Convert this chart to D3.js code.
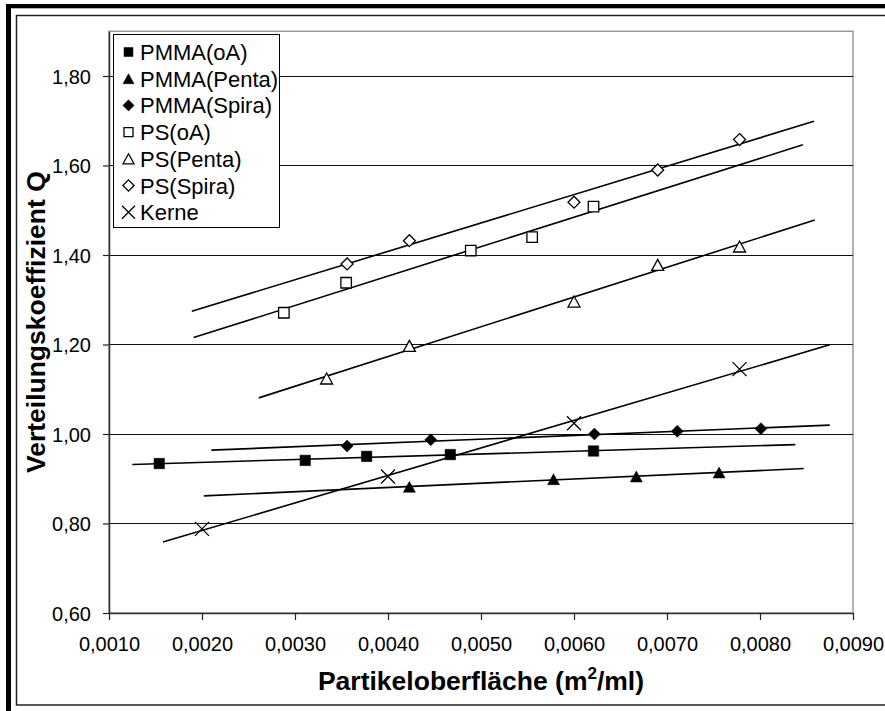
<!DOCTYPE html>
<html>
<head>
<meta charset="utf-8">
<script src="https://cdn.jsdelivr.net/npm/d3@7"></script>
<style>
  body { margin: 0; background: #fff; }
  svg { display: block; }
  text { font-family: "Liberation Sans", Arial, sans-serif; fill: #000; }
</style>
</head>
<body>
<svg id="chart" width="885" height="711"></svg>
<script>
// Particle surface (m²/ml) against distribution coefficient Q
const pmmaOaX    = [0.00154, 0.00311, 0.00377, 0.00467, 0.00621];
const pmmaOaY    = [0.934, 0.941, 0.950, 0.954, 0.962];
const pmmaPentaX = [0.00423, 0.00578, 0.00667, 0.00756];
const pmmaPentaY = [0.882, 0.899, 0.905, 0.914];
const pmmaSpiraX = [0.00356, 0.00446, 0.00622, 0.00711, 0.00801];
const pmmaSpiraY = [0.973, 0.987, 1.000, 1.006, 1.012];
const psOaX      = [0.00288, 0.00355, 0.00489, 0.00555, 0.00621];
const psOaY      = [1.271, 1.338, 1.410, 1.440, 1.508];
const psPentaX   = [0.00334, 0.00423, 0.00600, 0.00690, 0.00778];
const psPentaY   = [1.124, 1.197, 1.296, 1.378, 1.419];
const psSpiraX   = [0.00356, 0.00423, 0.00600, 0.00690, 0.00778];
const psSpiraY   = [1.380, 1.432, 1.518, 1.590, 1.658];
const kerneX     = [0.0020, 0.0040, 0.0060, 0.00778];
const kerneY     = [0.788, 0.905, 1.024, 1.145];

// x-range spanned by each linear trendline (backward / forward forecast)
const trendFrom = [0.00125, 0.00202, 0.00210, 0.00191, 0.00261, 0.00189, 0.00158];
const trendTo   = [0.00838, 0.00847, 0.00875, 0.00846, 0.00859, 0.00858, 0.00875];

const seriesNames = ["PMMA(oA)", "PMMA(Penta)", "PMMA(Spira)", "PS(oA)", "PS(Penta)", "PS(Spira)", "Kerne"];
const seriesShapes = ["square", "triangle", "diamond", "square", "triangle", "diamond", "x"];
const seriesFilled = [true, true, true, false, false, false, false];

const xTicks = [0.001, 0.002, 0.003, 0.004, 0.005, 0.006, 0.007, 0.008, 0.009];
const yTicks = [0.6, 0.8, 1.0, 1.2, 1.4, 1.6, 1.8];
const xDomain = [0.001, 0.009];
const yDomain = [0.6, 1.9];

const xTitle = "Partikeloberfläche";
const yTitle = "Verteilungskoeffizient Q";

const seriesX = [pmmaOaX, pmmaPentaX, pmmaSpiraX, psOaX, psPentaX, psSpiraX, kerneX];
const seriesY = [pmmaOaY, pmmaPentaY, pmmaSpiraY, psOaY, psPentaY, psSpiraY, kerneY];

const series = seriesNames.map((name, i) => ({
  name,
  shape: seriesShapes[i],
  filled: seriesFilled[i],
  points: seriesX[i].map((x, j) => ({ x, y: seriesY[i][j] })),
  from: trendFrom[i],
  to: trendTo[i]
}));

const locale = d3.formatLocale({ decimal: ",", thousands: ".", grouping: [3], currency: ["", "€"] });
const fmtX = locale.format(".4f");
const fmtY = locale.format(".2f");

const svg = d3.select("#chart");
const plot = { left: 109, right: 853, top: 31.25, bottom: 613 };

const x = d3.scaleLinear().domain(xDomain).range([plot.left, plot.right]);
const y = d3.scaleLinear().domain(yDomain).range([plot.bottom, plot.top]);

// outer frame: heavy top/left edge plus a thin inner rule
svg.append("rect").attr("x", 6).attr("y", 4).attr("width", 5).attr("height", 707).attr("fill", "#000");
svg.append("rect").attr("x", 6).attr("y", 4).attr("width", 879).attr("height", 4.3).attr("fill", "#000");
svg.append("path")
  .attr("d", "M885,15.5 H16.5 V705 H885")
  .attr("fill", "none").attr("stroke", "#222").attr("stroke-width", 1.5);

// plot area border
svg.append("rect")
  .attr("x", plot.left).attr("y", plot.top)
  .attr("width", plot.right - plot.left).attr("height", plot.bottom - plot.top)
  .attr("fill", "none").attr("stroke", "#9a9a9a").attr("stroke-width", 1.5);

// horizontal gridlines
svg.append("g").selectAll("line")
  .data(yTicks.filter(v => v > yDomain[0]))
  .join("line")
  .attr("x1", plot.left).attr("x2", plot.right)
  .attr("y1", d => Math.round(y(d)) + 0.5).attr("y2", d => Math.round(y(d)) + 0.5)
  .attr("stroke", "#111").attr("stroke-width", 1);

// axes
const yAxis = svg.append("g")
  .attr("transform", `translate(${plot.left},0)`)
  .call(d3.axisLeft(y).tickValues(yTicks).tickFormat(fmtY).tickSize(6).tickPadding(12).tickSizeOuter(0));
const xAxis = svg.append("g")
  .attr("transform", `translate(0,${plot.bottom})`)
  .call(d3.axisBottom(x).tickValues(xTicks).tickFormat(fmtX).tickSize(7).tickPadding(12).tickSizeOuter(0));

[yAxis, xAxis].forEach(g => {
  g.select(".domain").attr("stroke", "#333").attr("stroke-width", 1.5);
  g.selectAll(".tick line").attr("stroke", "#222").attr("stroke-width", 1.2);
  g.selectAll(".tick text")
    .attr("font-family", "\"Liberation Sans\", Arial, sans-serif")
    .attr("font-size", 20).attr("fill", "#000");
});
xAxis.selectAll(".tick text").attr("dy", null).attr("y", 38);
yAxis.selectAll(".tick text").attr("dy", "0.36em");

// marker shapes
function markerPath(shape, s) {
  const p = d3.path();
  if (shape === "square") {
    const h = s.sq / 2;
    p.rect(-h, -h, s.sq, s.sq);
  } else if (shape === "triangle") {
    p.moveTo(0, -s.th / 2); p.lineTo(s.tw / 2, s.th / 2); p.lineTo(-s.tw / 2, s.th / 2); p.closePath();
  } else if (shape === "diamond") {
    p.moveTo(0, -s.dm); p.lineTo(s.dm, 0); p.lineTo(0, s.dm); p.lineTo(-s.dm, 0); p.closePath();
  } else {
    p.moveTo(-s.xh, -s.xh); p.lineTo(s.xh, s.xh);
    p.moveTo(s.xh, -s.xh); p.lineTo(-s.xh, s.xh);
  }
  return p.toString();
}
const plotSizes = { sq: 10.5, tw: 12, th: 11, dm: 6, xh: 7 };
const legendSizes = { sq: 9, tw: 11, th: 10, dm: 5.6, xh: 6.5 };

function styleMarker(sel, s) {
  sel.attr("fill", s.shape === "x" ? "none" : (s.filled ? "#000" : "#fff"))
     .attr("stroke", "#000")
     .attr("stroke-width", s.filled ? 0.5 : 1.3)
     .attr("stroke-linejoin", "miter");
}

// linear trendlines from least squares fit
function fit(points) {
  const mx = d3.mean(points, d => d.x), my = d3.mean(points, d => d.y);
  let sxy = 0, sxx = 0;
  points.forEach(d => { sxy += (d.x - mx) * (d.y - my); sxx += (d.x - mx) ** 2; });
  const b = sxy / sxx;
  return v => my + b * (v - mx);
}
const trend = svg.append("g");
series.forEach(s => {
  const f = fit(s.points);
  trend.append("line")
    .attr("x1", x(s.from)).attr("y1", y(f(s.from)))
    .attr("x2", x(s.to)).attr("y2", y(f(s.to)))
    .attr("stroke", "#000").attr("stroke-width", 1.6);
});

// data markers
const marks = svg.append("g");
series.forEach(s => {
  marks.append("g").selectAll("path")
    .data(s.points)
    .join("path")
    .attr("transform", d => `translate(${x(d.x)},${y(d.y)})`)
    .attr("d", markerPath(s.shape, plotSizes))
    .call(styleMarker, s);
});

// legend
const legend = svg.append("g");
legend.append("rect")
  .attr("x", 113.5).attr("y", 34.5).attr("width", 166).attr("height", 193)
  .attr("fill", "#fff").attr("stroke", "#000").attr("stroke-width", 1);
series.forEach((s, i) => {
  const cy = 52 + i * 26.7;
  legend.append("path")
    .attr("transform", `translate(128.5,${cy})`)
    .attr("d", markerPath(s.shape, legendSizes))
    .call(styleMarker, s);
  legend.append("text")
    .attr("x", 140).attr("y", cy + 8)
    .attr("font-size", 22)
    .text(s.name);
});

// axis titles, centred on the plot area
svg.append("text")
  .attr("transform", `translate(45,${(plot.top + plot.bottom) / 2}) rotate(-90)`)
  .attr("text-anchor", "middle")
  .attr("font-size", 26.5).attr("font-weight", "bold")
  .text(yTitle);

const xt = svg.append("text")
  .attr("x", (plot.left + plot.right) / 2).attr("y", 690)
  .attr("text-anchor", "middle")
  .attr("font-size", 26.5).attr("font-weight", "bold");
xt.append("tspan").text(xTitle + " (m");
xt.append("tspan").attr("dy", -11).attr("font-size", 17).text("2");
xt.append("tspan").attr("dy", 11).text("/ml)");
</script>
</body>
</html>
